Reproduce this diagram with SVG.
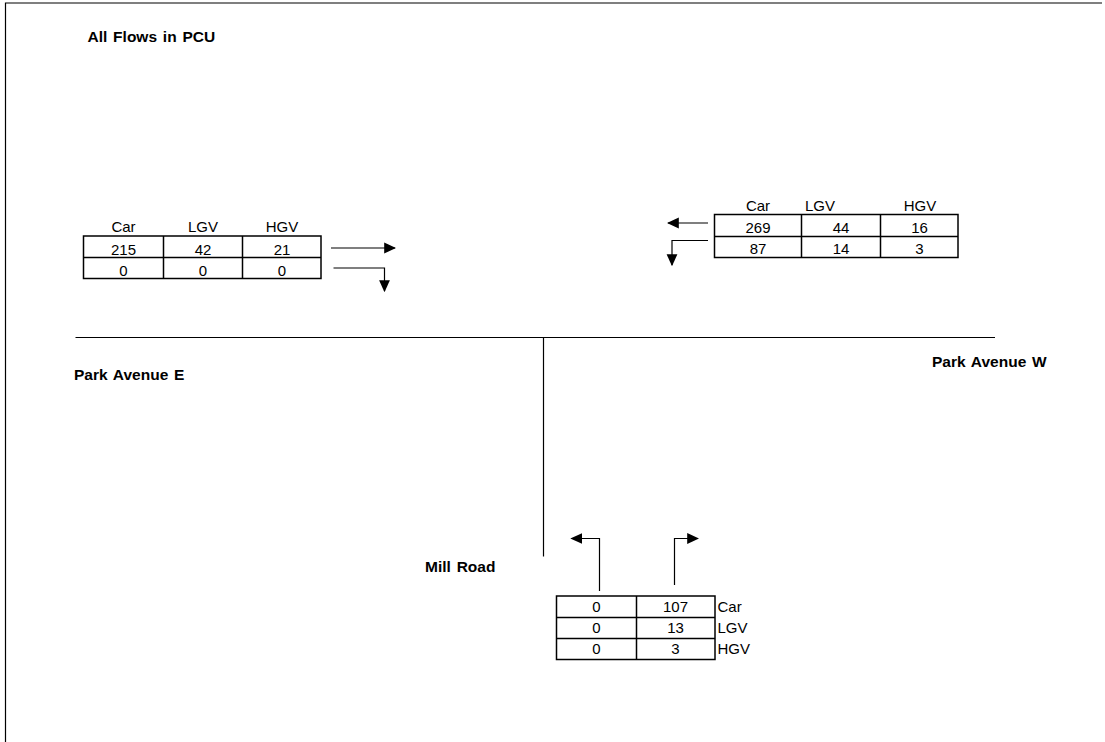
<svg xmlns="http://www.w3.org/2000/svg" width="1105" height="742" viewBox="0 0 1105 742">
<style>
.t{font-family:"Liberation Sans",Arial,sans-serif;font-size:15px;fill:#000}
.c{text-anchor:middle}
.b{font-family:"Liberation Sans",Arial,sans-serif;font-size:15.5px;font-weight:bold;fill:#000;word-spacing:1.5px}
.cell{fill:none;stroke:#000;stroke-width:1.5}
.ln{fill:none;stroke:#000;stroke-width:1.2}
.arr{fill:none;stroke:#000;stroke-width:1.2;marker-end:url(#ah)}
</style>
<defs>
<marker id="ah" markerUnits="userSpaceOnUse" markerWidth="12" markerHeight="12" viewBox="0 0 10 10" refX="9" refY="5" orient="auto">
<path d="M0,0.5 L10,5 L0,9.5 Z" fill="#000"/>
</marker>
</defs>
<rect width="1105" height="742" fill="#fff"/>
<path class="ln" d="M5.5,742 V3 H1102"/>
<g id="title"><text class="b" x="87.5" y="41.5">All Flows in PCU</text></g>
<g id="roads">
<path class="ln" d="M75.5,337.5 H995"/>
<path class="ln" d="M543.5,337.5 V556.5"/>
</g>
<g id="label-park-e"><text class="b" x="74" y="380">Park Avenue E</text></g>
<g id="label-park-w"><text class="b" x="932" y="366.5">Park Avenue W</text></g>
<g id="label-mill"><text class="b" x="425" y="571.5">Mill Road</text></g>
<g id="table-east">
<rect class="cell" x="83.5" y="236" width="237.5" height="42.5"/>
<path class="cell" d="M83.5,257.5 H321 M163.5,236 V278.5 M242.5,236 V278.5"/>
<text class="t c" x="123.5" y="232">Car</text>
<text class="t c" x="203" y="232">LGV</text>
<text class="t c" x="282" y="232">HGV</text>
<text class="t c" x="123.5" y="254.5">215</text>
<text class="t c" x="203" y="254.5">42</text>
<text class="t c" x="282" y="254.5">21</text>
<text class="t c" x="123.5" y="275.5">0</text>
<text class="t c" x="203" y="275.5">0</text>
<text class="t c" x="282" y="275.5">0</text>
</g>
<g id="table-west">
<rect class="cell" x="714.5" y="214.5" width="243.5" height="43"/>
<path class="cell" d="M714.5,236.5 H958 M801.5,214.5 V257.5 M880.5,214.5 V257.5"/>
<text class="t c" x="758" y="210.5">Car</text>
<text class="t" x="805" y="210.5">LGV</text>
<text class="t c" x="920" y="210.5">HGV</text>
<text class="t c" x="758" y="232.5">269</text>
<text class="t c" x="841" y="232.5">44</text>
<text class="t c" x="919.5" y="232.5">16</text>
<text class="t c" x="758" y="253.5">87</text>
<text class="t c" x="841" y="253.5">14</text>
<text class="t c" x="919.5" y="253.5">3</text>
</g>
<g id="table-mill">
<rect class="cell" x="556.5" y="596" width="158.5" height="63.5"/>
<path class="cell" d="M556.5,617.5 H715 M556.5,638.5 H715 M636.5,596 V659.5"/>
<text class="t c" x="596.5" y="612">0</text>
<text class="t c" x="675.5" y="612">107</text>
<text class="t" x="717.5" y="612">Car</text>
<text class="t c" x="596.5" y="633">0</text>
<text class="t c" x="675.5" y="633">13</text>
<text class="t" x="717.5" y="633">LGV</text>
<text class="t c" x="596.5" y="654">0</text>
<text class="t c" x="675.5" y="654">3</text>
<text class="t" x="717.5" y="654">HGV</text>
</g>
<g id="connectors">
<path class="arr" d="M331,248 H395"/>
<path class="arr" d="M333.5,268 H384.5 V291"/>
<path class="arr" d="M708,223 H668"/>
<path class="arr" d="M708,240.5 H672 V265"/>
<path class="arr" d="M599.5,591 V538.5 H571.5"/>
<path class="arr" d="M674.5,585 V538.5 H698"/>
</g>
</svg>
